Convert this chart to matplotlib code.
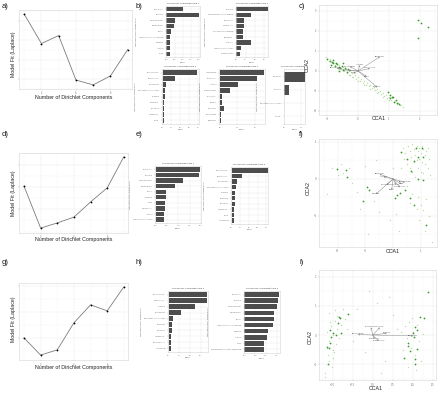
# Dirichlet multinomial model fit, top drivers per community type and CCA ordinations
import matplotlib
matplotlib.use('Agg')
import matplotlib.pyplot as plt
from matplotlib.ticker import AutoMinorLocator

plt.rcParams['font.family'] = ['Liberation Sans', 'DejaVu Sans']

# ---- model fit (Laplace) per number of Dirichlet components ----
n_components = [1, 2, 3, 4, 5, 6, 7]
fit_a = [9634, 9483, 9524, 9296, 9271, 9317, 9452]
fit_d = [3104, 2916, 2939, 2965, 3033, 3096, 3235]
fit_g = [3899, 3833, 3853, 3957, 4026, 4003, 4095]

# ---- top drivers (bar charts) ----
taxa_b1 = ['Bacteroides', 'Prevotella', 'Faecalibacterium', 'Ruminococcus', 'Blautia',
           'Lachnospiraceae (unclassified)', 'Roseburia', 'Alistipes', 'Dorea']
vals_b1 = [0.10, 0.20, 0.050, 0.048, 0.030, 0.021, 0.020, 0.020, 0.019]
taxa_b2 = ['Prevotella', 'Ruminococcaceae (unclassified)', 'Bacteroides', 'Coprococcus',
           'Clostridiales (unclassified)', 'Oscillospira', 'Sutterella',
           'Lachnospiraceae (other)', 'Parabacteroides']
vals_b2 = [0.34, 0.16, 0.085, 0.085, 0.075, 0.068, 0.155, 0.05, 0.042]
taxa_b3 = ['Bifidobacterium', 'Streptococcus', 'Enterococcus', 'Enterobacteriaceae (other)',
           'Veillonella', 'Escherichia', 'Clostridium', 'Lactobacillus', 'Rothia']
vals_b3 = [0.385, 0.14, 0.04, 0.033, 0.027, 0.02, 0.017, 0.017, 0.015]
taxa_b4 = ['Akkermansia', 'Bacteroides', 'Alistipes', 'Parabacteroides', 'Odoribacter',
           'Bilophila', 'Barnesiella', 'Butyricimonas', 'Eggerthella']
vals_b4 = [0.248, 0.210, 0.105, 0.057, 0.015, 0.012, 0.023, 0.01, 0.008]
taxa_b5 = ['Citrobacter', 'Klebsiella', 'Enterobacteriaceae (other)', 'Serratia']
vals_b5 = [0.5, 0.1, 0.0, 0.0]

taxa_e1 = ['Bacteroides', 'Prevotella', 'Faecalibacterium', 'Ruminococcus', 'Blautia',
           'Roseburia', 'Dorea', 'Coprococcus', 'Alistipes', 'Lachnospiraceae (other)']
vals_e1 = [0.196, 0.19, 0.12, 0.084, 0.044, 0.044, 0.04, 0.04, 0.036, 0.036]
taxa_e2 = ['Bifidobacterium', 'Streptococcus', 'Enterococcus', 'Enterobacteriaceae (other)',
           'Veillonella', 'Escherichia', 'Clostridium', 'Lactobacillus', 'Rothia', 'Actinomyces']
vals_e2 = [0.415, 0.125, 0.066, 0.05, 0.041, 0.037, 0.035, 0.033, 0.03, 0.03]

taxa_h1 = ['Bifidobacterium', 'Streptococcus', 'Veillonella', 'Enterococcus',
           'Enterobacteriaceae (other)', 'Escherichia', 'Clostridium', 'Lactobacillus',
           'Staphylococcus', 'Actinomyces']
vals_h1 = [0.356, 0.356, 0.246, 0.117, 0.038, 0.035, 0.03, 0.025, 0.022, 0.022]
taxa_h2 = ['Bacteroides', 'Prevotella', 'Faecalibacterium', 'Ruminococcus', 'Blautia',
           'Lachnospiraceae (unclassified)', 'Roseburia', 'Alistipes', 'Dorea',
           'Ruminococcaceae (other, unclassified)']
vals_h2 = [0.161, 0.156, 0.15, 0.139, 0.137, 0.131, 0.111, 0.107, 0.093, 0.093]

# ---- CCA ordinations ----
c_light_x = [-1.02, -0.95, -0.9, -0.85, -0.8, -0.75, -0.7, -0.66, -0.6, -0.55, -0.5, -0.45,
             -0.4, -0.35, -0.3, -0.25, -0.2, -0.15, -0.1, -0.05, 0.0, 0.05, 0.1, 0.15, 0.2,
             0.25, 0.3, 0.35, 0.4, 0.45, 0.5, 0.55, 0.6, 0.65, 0.7, 0.75, 0.8, 0.85, 0.9,
             0.95, 1.0, 1.05, 1.1, 1.15, 1.2, 1.25, 1.3, 1.35, 1.4, 1.45,
             -0.2, 0.0, 0.2, 0.4, 0.6, 0.8, 1.0, -0.6, -0.3]
c_light_y = [0.70, 0.50, 0.58, 0.40, 0.47, 0.30, 0.38, 0.22, 0.28, 0.10, 0.18, 0.0, 0.08,
             -0.08, 0.0, -0.20, -0.10, -0.28, -0.20, -0.38, -0.30, -0.48, -0.40, -0.58,
             -0.50, -0.68, -0.58, -0.76, -0.70, -0.86, -0.78, -0.96, -0.90, -1.06, -0.98,
             -1.16, -1.08, -1.26, -1.18, -1.34, -1.28, -1.45, -1.36, -1.55, -1.48, -1.64,
             -1.58, -1.72, -1.68, -1.82,
             -0.30, -0.50, -0.72, -0.92, -1.12, -1.30, -1.46, 0.10, -0.18]
c_dark_x = [-1.01, -0.92, -0.85, -0.80, -0.88, -0.74, -0.69, -0.63, -0.58, -0.53, -0.47,
            -0.42, -0.82, -0.71, -0.37, -0.31, -0.60, -0.49,
            0.98, 1.03, 1.09, 1.14, 1.23, 1.27, 1.33, 1.03, 1.16,
            1.95, 2.02, 2.27, 1.95]
c_dark_y = [0.58, 0.50, 0.47, 0.38, 0.30, 0.25, 0.33, 0.22, 0.13, 0.25, 0.05, 0.13, 0.55,
            0.42, -0.03, 0.08, 0.02, 0.38,
            -1.03, -1.20, -1.32, -1.28, -1.45, -1.58, -1.65, -1.37, -1.53,
            2.55, 2.42, 2.22, 1.67]
c_arrow_x = [0.71, 0.62, -0.69, 0.39, 0.28, -0.26, -0.31, 0.06, -0.15]
c_arrow_y = [0.72, -0.82, 0.13, 0.13, -0.28, 0.22, 0.02, 0.30, -0.12]
c_arrow_names = ['Bacteroides', 'Prevotella', 'Bifidobacterium', 'Ruminococcus', 'Blautia',
                 'Streptococcus', 'Veillonella', 'Alistipes', 'Dorea']

f_light_x = [0.35, 0.45, 0.55, 0.6, 0.7, 0.75, 0.8, 0.85, 0.9, 0.95, 1.0, 1.05, 1.1, 1.15,
             1.2, 1.25, 0.65, 0.75, 0.85, 0.95, 1.05, 1.15, 0.5, 0.6, 0.7, 0.9, 1.0, 1.1,
             1.25, 0.4, 0.3, 0.8, 1.3, 1.35,
             0.5, 0.7, 0.9, 1.0, 1.1, 0.85, 1.2, 0.6, 1.3, 1.4, 0.95, 1.15,
             -2.2, -1.9, -1.8, -1.6, -2.0, -1.5, -1.3, -1.2, -0.7, -0.5, -0.1, 0.1, -0.6,
             0.0, -1.0, -2.4, -0.9, 0.2]
f_light_y = [0.85, 0.7, 0.9, 0.75, 0.95, 0.8, 0.65, 0.9, 0.75, 0.85, 0.7, 0.9, 0.8, 0.65,
             0.75, 0.85, 0.6, 0.45, 0.5, 0.55, 0.45, 0.4, 0.4, 0.3, 0.2, 0.3, 0.2, 0.15,
             0.3, 0.55, 0.3, 0.05, 0.55, 0.1,
             -0.2, -0.4, -0.5, -0.7, -0.85, -0.8, -0.55, -0.65, -1.0, -1.7, -1.1, -1.4,
             0.3, 0.4, 0.15, 0.3, 0.1, -0.1, -0.35, -0.8, -0.6, -0.9, -1.1, -0.95, 0.5,
             0.3, 0.35, -0.4, -1.5, -1.4]
f_dark_x = [0.28, 0.52, 0.76, 0.92, 1.04, 0.64, 0.89, 1.07, 1.20, 0.25, 0.62, 0.76,
            -2.04, -1.70, -1.65, -0.93, -0.86, -1.10, 0.07, 0.13, 0.43, 1.10, 0.83]
f_dark_y = [0.74, 0.54, 0.49, 0.60, 0.83, 0.22, -0.01, -0.03, -1.24, -0.39, -0.52, -0.70,
            0.26, 0.23, 0.06, -0.21, -0.30, -0.59, -0.52, -0.43, -0.30, 0.60, 0.83]
f_arrow_x = [-0.49, -0.62, 0.43, 0.25, -0.05, -0.23, 0.11, -0.35, 0.31]
f_arrow_y = [0.13, -0.41, -0.09, -0.23, -0.30, -0.16, -0.16, 0.06, -0.14]
f_arrow_names = ['Bacteroides', 'Prevotella', 'Bifidobacterium', 'Ruminococcus', 'Blautia',
                 'Streptococcus', 'Veillonella', 'Alistipes', 'Dorea']

i_light_x = [-1.15, -1.1, -1.05, -1.0, -0.95, -0.9, -0.85, -0.8, -1.12, -1.08, -1.02, -0.98,
             -0.92, -0.88, -1.18, -1.14, -1.06, -0.96, -1.1, -1.2, -0.75, -0.7, -0.65, -1.0,
             -0.94,
             0.8, 0.85, 0.9, 0.95, 1.0, 1.05, 1.1, 1.15, 1.2, 0.75, 0.88, 0.98, 1.08, 1.25, 0.7,
             -0.4, -0.2, 0.1, 0.3, 0.5, -0.5, 0.2, 0.6, -0.1, 0.4]
i_light_y = [0.1, -0.2, 0.3, -0.5, 0.5, 0.2, -0.1, 0.35, -0.7, -0.9, -1.1, 0.0, -0.3, 0.65,
             -1.3, -0.45, 0.45, -0.6, 0.75, -1.45, 0.9, 0.55, 0.2, -0.8, 0.85,
             0.3, -0.1, 0.45, -0.45, 0.1, -0.7, 0.35, -0.2, -0.9, -0.5, -1.1, 0.6, -1.2, 0.05,
             0.1,
             0.9, -0.6, 1.1, -0.9, 0.7, -0.2, -1.3, 0.2, 1.5, 1.3]
i_dark_x = [-0.84, -0.81, -0.87, -1.07, -1.03, -0.91, -0.78, -1.07, -1.09, -1.14, -1.11,
            -0.62, -0.99,
            1.06, 1.11, 1.03, 1.01, 0.89, 0.87, 0.92, 1.11, 1.06, 1.06, 0.78, 1.17, 1.28, 1.39]
i_dark_y = [0.63, 0.57, 0.40, 0.17, -0.06, 0.0, 0.06, -0.29, -0.46, -0.40, -1.0, 0.71, 0.06,
            0.29, 0.17, -0.06, 0.06, -0.29, -0.38, -0.55, -0.48, -0.84, -1.01, -0.78, 0.63,
            0.57, 1.49]
i_arrow_x = [-0.37, 1.01, -0.04, 0.18, 0.35, 0.15, 0.04]
i_arrow_y = [0.02, -0.03, 0.26, 0.26, 0.06, -0.21, -0.14]
i_arrow_names = ['Bifidobacterium', 'Bacteroides', 'Streptococcus', 'Veillonella',
                 'Prevotella', 'Ruminococcus', 'Enterococcus']

DARK_GREEN = '#3a9a2e'
LIGHT_GREEN = '#b3dc9c'
BAR_GREY = '#4d4d4d'

W, H = 440, 393
fig = plt.figure(figsize=(4.4, 3.93), dpi=100)


def add_ax(l, t, r, b):
    # axes placed from pixel box (left, top, right, bottom)
    return fig.add_axes([l / W, 1 - b / H, (r - l) / W, (b - t) / H])


def txt(x, y, s, **kw):
    kw.setdefault('ha', 'center')
    kw.setdefault('va', 'center')
    fig.text(x / W, 1 - y / H, s, **kw)


def style(ax, labelsize=1.8, minor=True):
    ax.set_facecolor('white')
    for s in ax.spines.values():
        s.set_color('#d4d4d4')
        s.set_linewidth(0.4)
    ax.tick_params(length=1, width=0.3, color='#b0b0b0', labelsize=labelsize,
                   labelcolor='#6e6e6e', pad=0.8)
    ax.tick_params(which='minor', length=0)
    ax.set_axisbelow(True)
    ax.grid(True, which='major', color='#e2e2e2', lw=0.35, ls=(0, (2, 1)))
    if minor:
        ax.xaxis.set_minor_locator(AutoMinorLocator(2))
        ax.yaxis.set_minor_locator(AutoMinorLocator(2))
        ax.grid(True, which='minor', color='#efefef', lw=0.3, ls=(0, (2, 1)))


def fit_panel(box, ys, yticks, ylim):
    ax = add_ax(*box)
    style(ax)
    ax.plot(n_components, ys, color='#7d7d7d', lw=0.6, marker='o', ms=1.0,
            mfc='black', mec='black', mew=0.2)
    ax.set_xticks([2, 4, 6])
    ax.set_yticks(yticks)
    ax.set_yticklabels([])  # y values are not printed in the original
    ax.set_xlim(0.7, 7.25)
    ax.set_ylim(*ylim)
    return ax


def bar_panel(box, taxa, vals, title, xticks, xlim, ylabel=True):
    ax = add_ax(*box)
    style(ax, labelsize=1.3, minor=False)
    n = len(vals)
    ypos = [n - 1 - k for k in range(n)]
    ax.barh(ypos, vals, height=0.78, color=BAR_GREY)
    ax.set_yticks(ypos)
    ax.set_yticklabels(taxa, fontsize=1.25)
    ax.set_xticks(xticks)
    ax.set_xlim(*xlim)
    ax.set_ylim(-0.6, n - 0.4)
    ax.set_title(title, fontsize=1.7, pad=1.2, color='#333333')
    ax.set_xlabel('Value', fontsize=1.6, labelpad=1, color='#555555')
    if ylabel:
        ax.set_ylabel('Taxonomic driver (genus level)', fontsize=1.5, labelpad=1.5,
                      color='#555555')
    return ax


def cca_panel(box, lx, ly, dx, dy, tx, ty, names, xticks, yticks, xlim, ylim):
    ax = add_ax(*box)
    style(ax)
    ax.scatter(lx, ly, s=1.0, color=LIGHT_GREEN, lw=0, alpha=0.9, zorder=2)
    ax.scatter(dx, dy, s=1.6, color=DARK_GREEN, lw=0, zorder=3)
    for x, y, name in zip(tx, ty, names):
        ax.annotate('', xy=(x, y), xytext=(0, 0), zorder=4,
                    arrowprops=dict(arrowstyle='->', lw=0.35, color='#8a8a8a',
                                    shrinkA=0, shrinkB=0, mutation_scale=2.5))
        ax.text(x, y, name, fontsize=1.4, color='#555555', ha='center', va='bottom', zorder=5)
    ax.set_xticks(xticks)
    ax.set_yticks(yticks)
    ax.set_xlim(*xlim)
    ax.set_ylim(*ylim)
    return ax


# ---- row 1 ----
fit_panel((19, 10, 132, 89), fit_a, [9300, 9400, 9500, 9600], (9250, 9655))
bar_panel((166, 6, 200, 57), taxa_b1, vals_b1, 'Top drivers: community type 1',
          [0, 0.05, 0.10, 0.15, 0.20], (-0.003, 0.205))
bar_panel((236, 6, 268, 57), taxa_b2, vals_b2, 'Top drivers: community type 2',
          [0, 0.1, 0.2, 0.3], (-0.005, 0.345))
bar_panel((162, 69, 199, 124), taxa_b3, vals_b3, 'Top drivers: community type 3',
          [0, 0.1, 0.2, 0.3, 0.4], (-0.006, 0.41))
bar_panel((219, 69, 265, 124), taxa_b4, vals_b4, 'Top drivers: community type 4',
          [0, 0.1, 0.2], (-0.004, 0.255))
bar_panel((284, 69, 305, 124), taxa_b5, vals_b5, 'Top drivers: community t',
          [0, 0.4], (-0.01, 0.5))
cca_panel((319, 5, 437, 115), c_light_x, c_light_y, c_dark_x, c_dark_y,
          c_arrow_x, c_arrow_y, c_arrow_names,
          [-1, 0, 1, 2], [-2, -1, 0, 1, 2, 3], (-1.26, 2.55), (-2.2, 3.3))

# ---- row 2 ----
fit_panel((19, 153, 128, 233), fit_d, [3000, 3100, 3200], (2894, 3252))
bar_panel((155, 166, 201, 223), taxa_e1, vals_e1, 'Top drivers: community type 1',
          [0, 0.05, 0.10, 0.15, 0.20], (-0.003, 0.2))
bar_panel((231, 167, 268, 224), taxa_e2, vals_e2, 'Top drivers: community type 2',
          [0, 0.1, 0.2, 0.3, 0.4], (-0.006, 0.42))
cca_panel((319, 139, 437, 247), f_light_x, f_light_y, f_dark_x, f_dark_y,
          f_arrow_x, f_arrow_y, f_arrow_names,
          [-2, -1, 0, 1], [-1, 0, 1], (-2.68, 1.59), (-1.84, 1.08))

# ---- row 3 ----
fit_panel((19, 283, 128, 360), fit_g, [3900, 4000, 4100], (3814, 4110))
bar_panel((168, 291, 208, 352), taxa_h1, vals_h1, 'Top drivers: community type 1',
          [0, 0.1, 0.2, 0.3], (-0.005, 0.37))
bar_panel((244, 291, 280, 353), taxa_h2, vals_h2, 'Top drivers: community type 2',
          [0, 0.05, 0.10, 0.15], (-0.002, 0.165))
cca_panel((319, 270, 436, 380), i_light_x, i_light_y, i_dark_x, i_dark_y,
          i_arrow_x, i_arrow_y, i_arrow_names,
          [-1.0, -0.5, 0.0, 0.5, 1.0, 1.5], [-1, 0, 1, 2], (-1.34, 1.58), (-1.55, 2.24))

# ---- axis titles ----
lab = dict(fontsize=3.8, color='#222222')
for yc in (98, 239, 367):
    txt(74, yc, 'Number of Dirichlet Components', **lab)
for yc in (54, 193, 319):
    txt(13, yc, 'Model Fit (Laplace)', rotation=90, **lab)
for xc, yc in ((379, 119), (393, 252), (376, 388)):
    txt(xc, yc, 'CCA1', **lab)
for xc, yc in ((307, 65), (308, 188), (310, 337)):
    txt(xc, yc, 'CCA2', rotation=90, **lab)

# ---- panel letters ----
pl = dict(fontsize=5.5, color='#111111', ha='left')
for xl, yl, s in ((2, 6, 'a)'), (136, 6, 'b)'), (299, 6, 'c)'),
                  (2, 135, 'd)'), (136, 135, 'e)'), (299, 135, 'f)'),
                  (2, 263, 'g)'), (136, 263, 'h)'), (299, 263, 'i)')):
    txt(xl, yl, s, **pl)

fig.savefig('out.png', dpi=100)
